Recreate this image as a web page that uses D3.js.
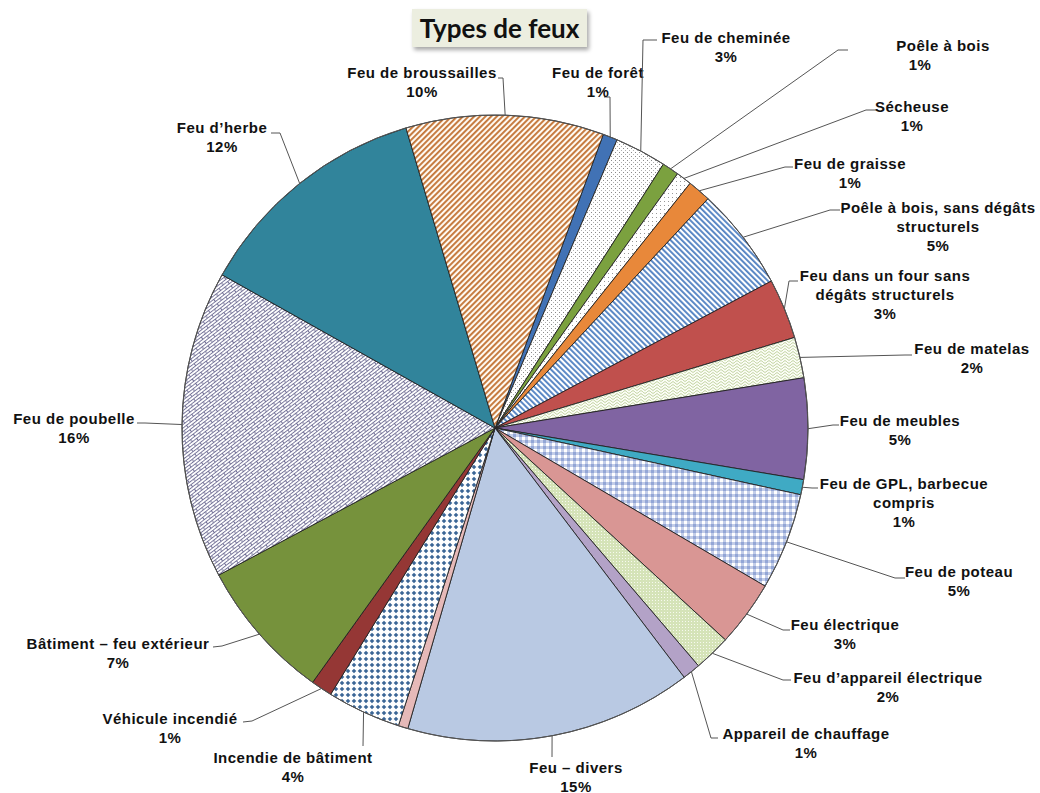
<!DOCTYPE html>
<html><head><meta charset="utf-8">
<script src="https://cdn.jsdelivr.net/npm/d3@7"></script>
<style>body{margin:0;background:#fff}</style>
</head><body>
<svg id="chart" width="1040" height="793"></svg>
<script>
// ---- data ----
const categories = ["Feu de forêt","Feu de cheminée","Poêle à bois","Sécheuse","Feu de graisse",
  "Poêle à bois, sans dégâts structurels","Feu dans un four sans dégâts structurels","Feu de matelas",
  "Feu de meubles","Feu de GPL, barbecue compris","Feu de poteau","Feu électrique",
  "Feu d’appareil électrique","Appareil de chauffage","Feu – divers","Autre","Incendie de bâtiment",
  "Véhicule incendié","Bâtiment – feu extérieur","Feu de poubelle","Feu d’herbe","Feu de broussailles"];
const values = [0.75,2.66,0.87,0.8,1.2,5.3,3.1,2.1,5.2,0.78,5.0,3.4,1.9,0.93,14.8,0.5,3.8,1.1,7.3,15.9,12.25,10.2];
const labelLines = [["Feu de forêt"],["Feu de cheminée"],["Poêle à bois"],["Sécheuse"],["Feu de graisse"],
  ["Poêle à bois, sans dégâts","structurels"],["Feu dans un four sans","dégâts structurels"],["Feu de matelas"],
  ["Feu de meubles"],["Feu de GPL, barbecue","compris"],["Feu de poteau"],["Feu électrique"],
  ["Feu d’appareil électrique"],["Appareil de chauffage"],["Feu – divers"],null,["Incendie de bâtiment"],
  ["Véhicule incendié"],["Bâtiment – feu extérieur"],["Feu de poubelle"],["Feu d’herbe"],["Feu de broussailles"]];
const titleText = "Types de feux";

// ---- layout / style (not data) ----
// [textCenterX, firstLineCenterY, elbowX, elbowY, endX, endY, pctLineDx]
const labelLayout = [
  [598,72, 610,97, 604,97, 0],
  [726,37, 643,40, 657,40, 0],
  [943,45, 838,50, 848,50, -23],
  [912,106, 866,110, 877,110, 0],
  [850,163, 785,167, 793,167, 0],
  [938,207, 830,210, 840,210, 0],
  [885,275, 789,281, 798,281, 0],
  [972,348, 905,355, 912,355, 0],
  [900,420, 833,425, 839,425, 0],
  [904,483, 812,488, 818,488, 0],
  [959,571, 895,578, 905,578, 0],
  [845,624, 783,630, 790,630, 0],
  [888,677, 783,680, 791,680, 0],
  [806,733, 711,738, 718,738, 0],
  [576,767, 552,757, 552,757, 0],
  null,
  [293,757, 363,746, 363,746, 0],
  [170,718, 252,721, 243,722, 0],
  [118,643, 222,646, 213,647, 0],
  [74,418, 145,423, 137,423, 0],
  [222,127, 280,133, 271,133, 0],
  [422,72, 503,78, 498,78, 0]
];
const fills = ["#4172b5","url(#pDots)","#7ba13f","url(#pDots2)","#e8883a","url(#pBlueStripe)","#c0504d",
  "url(#pScale)","#8064a2","#3faac4","url(#pPlaid)","#d99694","url(#pGreenDots)","#b3a2c7","#b9c9e3",
  "#e6b9b8","url(#pDiamond)","#953735","#76923c","url(#pBrick)","#31849b","url(#pOrangeStripe)"];

const W=1040,H=793, cx=495, cy=428, R=313;
const startDeg = 20.25;

const svg = d3.select("#chart");
const defs = svg.append("defs");

function pat(id,w,h,transform){
  const p = defs.append("pattern").attr("id",id).attr("patternUnits","userSpaceOnUse")
    .attr("width",w).attr("height",h);
  if(transform) p.attr("patternTransform",transform);
  return p;
}
// dots (cheminée)
{ const p=pat("pDots",4,4); p.append("rect").attr("width",4).attr("height",4).attr("fill","#fff");
  p.append("rect").attr("x",0).attr("y",0).attr("width",1).attr("height",1).attr("fill","#8a8a8a");
  p.append("rect").attr("x",2).attr("y",2).attr("width",1).attr("height",1).attr("fill","#b0b0b0"); }
{ const p=pat("pDots2",4,4); p.append("rect").attr("width",4).attr("height",4).attr("fill","#fff");
  p.append("rect").attr("x",1).attr("y",1).attr("width",1).attr("height",1).attr("fill","#999"); }
// stripes
{ const p=pat("pBlueStripe",4,4,"rotate(-45)"); p.append("rect").attr("width",4).attr("height",4).attr("fill","#fff");
  p.append("rect").attr("width",1.9).attr("height",4).attr("fill","#5584c3"); }
{ const p=pat("pOrangeStripe",4,4,"rotate(45)"); p.append("rect").attr("width",4).attr("height",4).attr("fill","#fffaf2");
  p.append("rect").attr("width",1.9).attr("height",4).attr("fill","#c47639"); }
// scale (matelas)
{ const p=pat("pScale",8,6); p.append("rect").attr("width",8).attr("height",6).attr("fill","#fbfdf5");
  p.append("path").attr("d","M0,3 Q2,0 4,3 Q6,6 8,3 M0,6 Q2,3 4,6 M4,0 Q6,3 8,0").attr("fill","none").attr("stroke","#b5c98e").attr("stroke-width",0.8); }
// plaid (poteau)
{ const p=pat("pPlaid",6,6); p.append("rect").attr("width",6).attr("height",6).attr("fill","#fff");
  p.append("rect").attr("x",0).attr("y",0).attr("width",3).attr("height",6).attr("fill","#c3cde8");
  p.append("rect").attr("x",0).attr("y",0).attr("width",6).attr("height",3).attr("fill","#c3cde8");
  p.append("rect").attr("x",0).attr("y",0).attr("width",3).attr("height",3).attr("fill","#93a6d6"); }
// green dots (appareil électrique)
{ const p=pat("pGreenDots",3,3); p.append("rect").attr("width",3).attr("height",3).attr("fill","#d5e3b8");
  p.append("rect").attr("x",1).attr("y",1).attr("width",1).attr("height",1).attr("fill","#f6f9ee"); }
// diamonds (incendie)
{ const p=pat("pDiamond",6,6); p.append("rect").attr("width",6).attr("height",6).attr("fill","#fff");
  p.append("path").attr("d","M3,0.7 L5.3,3 L3,5.3 L0.7,3 Z").attr("fill","#3b6696"); }
// bricks (poubelle)
{ const p=pat("pBrick",11,5.5,"rotate(-38)"); p.append("rect").attr("width",11).attr("height",5.5).attr("fill","#fff");
  p.append("path").attr("d","M0,0.5 H11 M0,3.25 H11 M0.5,0.5 V3.25 M6,3.25 V5.5 M6,0 V0.5").attr("fill","none").attr("stroke","#6a6790").attr("stroke-width",0.9); }
// title shadow
const f = defs.append("filter").attr("id","shadow").attr("x","-20%").attr("y","-30%").attr("width","140%").attr("height","170%");
f.append("feGaussianBlur").attr("in","SourceAlpha").attr("stdDeviation",2);
f.append("feOffset").attr("dx",2).attr("dy",3).attr("result","ob");
f.append("feComponentTransfer").append("feFuncA").attr("type","linear").attr("slope",0.35);
const fm=f.append("feMerge"); fm.append("feMergeNode"); fm.append("feMergeNode").attr("in","SourceGraphic");

// ---- pie ----
const data = categories.map((c,i)=>({name:c, value:values[i], i}));
const total = d3.sum(values);
const a0 = startDeg*Math.PI/180;
const pie = d3.pie().sort(null).value(d=>d.value).startAngle(a0).endAngle(a0+2*Math.PI);
const arcs = pie(data);
const arc = d3.arc().innerRadius(0).outerRadius(R);
const edge = d3.arc().innerRadius(R).outerRadius(R);

const g = svg.append("g").attr("transform",`translate(${cx},${cy})`);
g.selectAll("path.slice").data(arcs).enter().append("path").attr("class","slice")
  .attr("d",arc).attr("fill",d=>fills[d.data.i]).attr("stroke","#222").attr("stroke-width",0.9)
  .attr("stroke-linejoin","round");
g.append("circle").attr("r",R).attr("fill","none").attr("stroke","#555").attr("stroke-width",1);

// ---- labels ----
const lg = svg.append("g");
arcs.forEach(d=>{
  const L = labelLayout[d.data.i], lines = labelLines[d.data.i];
  if(!L || !lines) return;
  const [sx,sy] = edge.centroid(d);
  lg.append("polyline").attr("points",[[sx+cx,sy+cy],[L[2],L[3]],[L[4],L[5]]].map(p=>p.join(",")).join(" "))
    .attr("fill","none").attr("stroke","#555").attr("stroke-width",1);
  const pct = Math.round(d.data.value/total*100)+"%";
  const t = lg.append("text").attr("text-anchor","middle")
    .attr("font-family","Liberation Sans, Arial, sans-serif").attr("font-weight","bold")
    .attr("font-size",15).attr("letter-spacing",0.5).attr("fill","#111");
  lines.concat([pct]).forEach((s,k)=>{
    const isPct = k===lines.length;
    t.append("tspan").attr("x",L[0]+(isPct?L[6]:0)).attr("y",L[1]+5.5+k*19).text(s);
  });
});

// ---- title ----
const tg = svg.append("g");
tg.append("rect").attr("x",412).attr("y",9).attr("width",175).attr("height",38)
  .attr("fill","#eceee0").attr("filter","url(#shadow)");
tg.append("text").attr("x",499.5).attr("y",37.5).attr("text-anchor","middle")
  .attr("font-family","Lato, Carlito, sans-serif").attr("font-weight","bold").attr("font-size",26)
  .attr("fill","#111").text(titleText);
</script>
</body></html>
